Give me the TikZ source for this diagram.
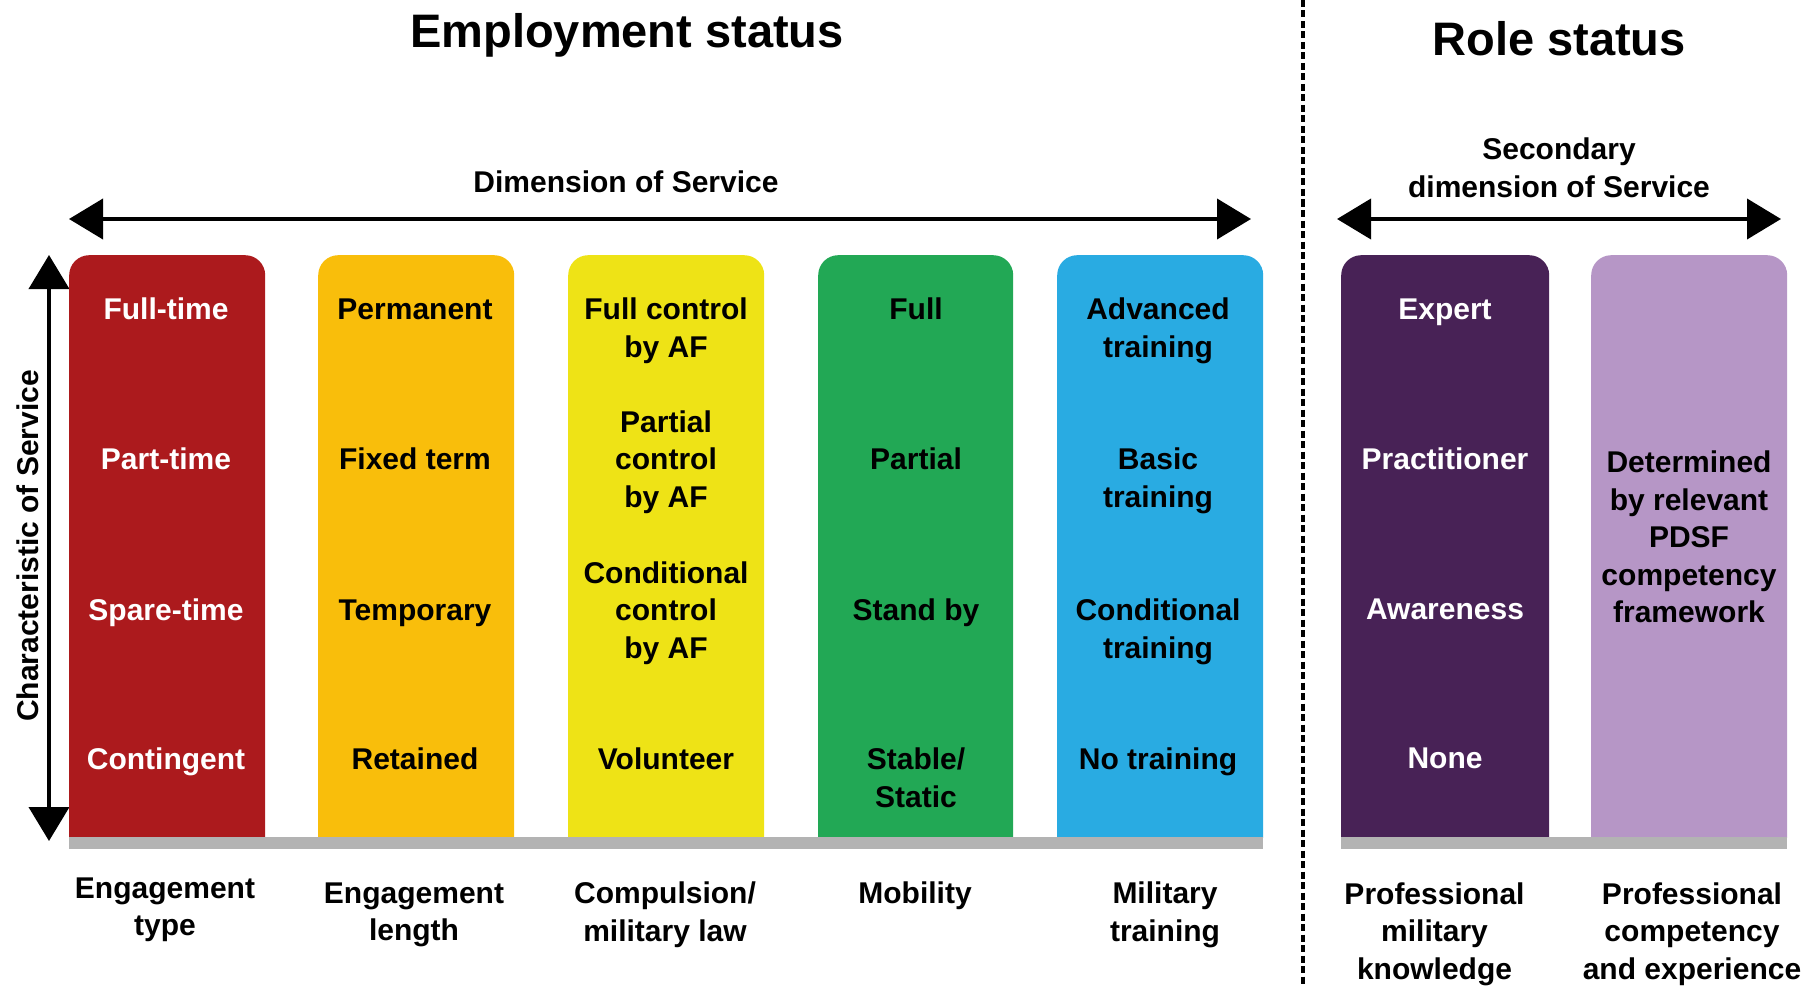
\documentclass[tikz,border=0pt]{standalone}
\usepackage{fontspec}
\setmainfont{Liberation Sans}
\usetikzlibrary{arrows.meta}
\definecolor{cRed}{HTML}{AC1A1D}
\definecolor{cOrange}{HTML}{F9BE0B}
\definecolor{cYellow}{HTML}{EEE316}
\definecolor{cGreen}{HTML}{22A855}
\definecolor{cBlue}{HTML}{29ABE2}
\definecolor{cPurple}{HTML}{482256}
\definecolor{cLilac}{HTML}{B696C6}
\definecolor{cGray}{HTML}{B3B3B3}
\begin{document}
\begin{tikzpicture}[x=1pt,y=-1pt,
  txt/.style={font=\fontsize{30}{37.5}\selectfont\bfseries, align=center, inner sep=0pt},
  wtxt/.style={txt, text=white},
  bigtitle/.style={font=\fontsize{47}{56}\selectfont\bfseries, inner sep=0pt, anchor=base},
  dimarrow/.style={line width=4pt, {Triangle[length=34pt,width=40pt]}-{Triangle[length=34pt,width=40pt]}},
  colbox/.style={rounded corners=20pt, inner sep=0pt, minimum height=622pt, anchor=north west},
  bar/.style={fill=cGray, draw=none},
  divider/.style={line width=3.5pt, dash pattern=on 7pt off 3.5pt}
]
\useasboundingbox (0,0) rectangle (1814,987);

% titles
\node[bigtitle] (empT) at (627,47.8) {Employment status};
\node[bigtitle] (roleT) at (1559,56) {Role status};

% divider
\coordinate (dTop) at (1303,0);
\coordinate (dBot) at (1303,987);
\draw[divider] (dTop) -- (dBot);

% dimension arrows and labels
\node[txt, anchor=base] (dimS) at (626,192.4) {Dimension of Service};
\node[txt] (secS) at (1559,167.75) {Secondary\\dimension of Service};
\coordinate (hL) at (69,219);
\coordinate (hR) at (1251,219);
\draw[dimarrow] (hL) -- (hR);
\coordinate (sL) at (1337,219);
\coordinate (sR) at (1781,219);
\draw[dimarrow] (sL) -- (sR);

% vertical arrow
\coordinate (vT) at (49,255);
\coordinate (vB) at (49,841);
\draw[dimarrow] (vT) -- (vB);
\node[txt, rotate=90, anchor=base] (charS) at (38.5,546) {Characteristic of Service};

% columns
\begin{scope}
\clip (0,0) rectangle (1814,837);
\node[colbox, fill=cRed, minimum width=196pt] (c1) at (69,255) {};
\node[colbox, fill=cOrange, minimum width=196pt] (c2) at (318,255) {};
\node[colbox, fill=cYellow, minimum width=196pt] (c3) at (568,255) {};
\node[colbox, fill=cGreen, minimum width=195pt] (c4) at (818,255) {};
\node[colbox, fill=cBlue, minimum width=206pt] (c5) at (1057,255) {};
\node[colbox, fill=cPurple, minimum width=208pt] (c6) at (1341,255) {};
\node[colbox, fill=cLilac, minimum width=196pt] (c7) at (1591,255) {};
\end{scope}

% gray base bars
\fill[bar] (69,837) rectangle (1263,849);
\fill[bar] (1341,837) rectangle (1787,849);

% column 1 (white)
\node[wtxt, anchor=base] (t11) at (166,319.75) {Full-time};
\node[wtxt, anchor=base] (t12) at (166,469.75) {Part-time};
\node[wtxt, anchor=base] (t13) at (166,620.75) {Spare-time};
\node[wtxt, anchor=base] (t14) at (166,769.75) {Contingent};

% column 2
\node[txt, anchor=base] (t21) at (415,319.75) {Permanent};
\node[txt, anchor=base] (t22) at (415,469.75) {Fixed term};
\node[txt, anchor=base] (t23) at (415,620.75) {Temporary};
\node[txt, anchor=base] (t24) at (415,769.75) {Retained};

% column 3
\node[txt] (t31) at (666,330.9) {Full control\\by AF};
\node[txt] (t32) at (666,462.2) {Partial\\control\\by AF};
\node[txt] (t33) at (666,613.2) {Conditional\\control\\by AF};
\node[txt, anchor=base] (t34) at (666,769.75) {Volunteer};

% column 4
\node[txt, anchor=base] (t41) at (916,319.75) {Full};
\node[txt, anchor=base] (t42) at (916,469.75) {Partial};
\node[txt, anchor=base] (t43) at (916,620.75) {Stand by};
\node[txt] (t44) at (916,777.75) {Stable/\\Static};

% column 5
\node[txt] (t51) at (1158,330.9) {Advanced\\training};
\node[txt] (t52) at (1158,480.9) {Basic\\training};
\node[txt] (t53) at (1158,631.9) {Conditional\\training};
\node[txt, anchor=base] (t54) at (1158,769.75) {No training};

% column 6 (white)
\node[wtxt, anchor=base] (t61) at (1445,319.75) {Expert};
\node[wtxt, anchor=base] (t62) at (1445,469.75) {Practitioner};
\node[wtxt, anchor=base] (t63) at (1445,619.5) {Awareness};
\node[wtxt, anchor=base] (t64) at (1445,768.5) {None};

% column 7
\node[txt] (t71) at (1689,537) {Determined\\by relevant\\PDSF\\competency\\framework};

% bottom labels
\node[txt] (b1) at (165,910) {Engagement\\type};
\node[txt] (b2) at (414,914.7) {Engagement\\length};
\node[txt] (b3) at (665,914.9) {Compulsion/\\military law};
\node[txt, anchor=base] (b4) at (915,903.75) {Mobility};
\node[txt] (b5) at (1165,914.9) {Military\\training};
\node[txt] (b6) at (1434.5,934) {Professional\\military\\knowledge};
\node[txt] (b7) at (1692,934) {Professional\\competency\\and experience};
\end{tikzpicture}
\end{document}
